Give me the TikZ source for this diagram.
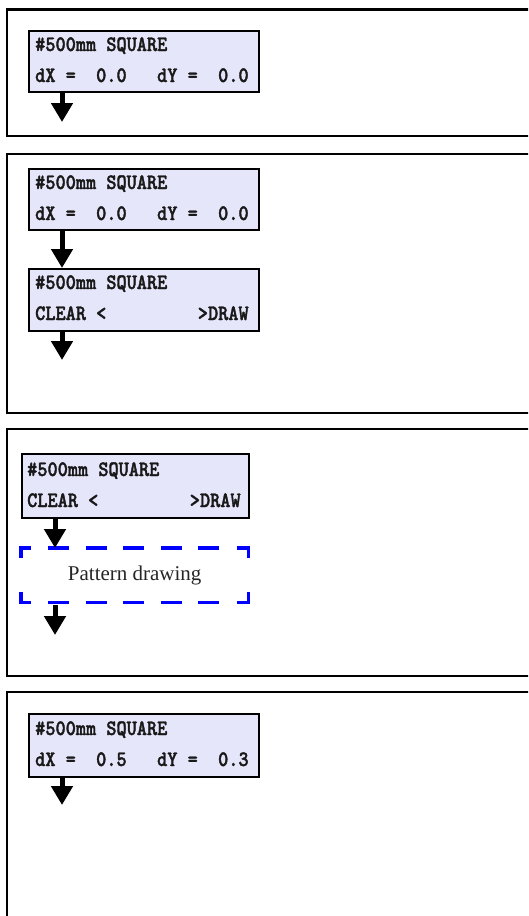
\documentclass[tikz,border=0pt]{standalone}
\usepackage{fontspec}
\setmainfont{Liberation Serif}
\newfontfamily\lcdfont{lmmonolt10-bold.otf}[FakeStretch=0.88,FakeBold=1.6]
\usetikzlibrary{arrows.meta}
\definecolor{lcdbg}{RGB}{230,230,250}
\definecolor{dashblue}{RGB}{0,0,255}
\tikzset{
  frame/.style={draw=black,line width=2.8pt},
  lcd/.style={draw=black,line width=1.8pt,fill=lcdbg,minimum width=230pt,minimum height=61pt,inner sep=0pt,anchor=north west},
  lcdtext/.style={font=\lcdfont\fontsize{22}{22}\selectfont,text=black!90,inner sep=0pt,anchor=base west},
  arr/.style={line width=5pt,-{Triangle[width=21pt,length=19pt]}},
  bluedash/.style={draw=dashblue,line width=3.2pt,line join=miter},
  pdtext/.style={font=\fontsize{21}{21}\selectfont,text=black!85}
}
\begin{document}
\begin{tikzpicture}[x=1pt,y=-1pt]
\useasboundingbox (0,0) rectangle (528,916);
\clip (0,0) rectangle (528,916);
\fill[white] (0,0) rectangle (528,916);
% frames
\draw[frame] (7,9.5) rectangle (545,136);
\draw[frame] (7,154) rectangle (545,413);
\draw[frame] (7,429) rectangle (545,676);
\draw[frame] (7,692) rectangle (545,940);

% ---- frame 1
\node[lcd] (b1) at (28,30) {};
\node[lcdtext] (t1a) at ([xshift=7pt,yshift=-21pt]b1.north west) {\#500mm~SQUARE};
\node[lcdtext] (t1b) at ([xshift=7pt,yshift=-52pt]b1.north west) {dX~=~~0.0~~~dY~=~~0.0};
\coordinate (e1) at (62,122);
\draw[arr] (b1.south west -| e1) -- (e1);

% ---- frame 2
\node[lcd] (b2) at (28,168) {};
\node[lcdtext] (t2a) at ([xshift=7pt,yshift=-21pt]b2.north west) {\#500mm~SQUARE};
\node[lcdtext] (t2b) at ([xshift=7pt,yshift=-52pt]b2.north west) {dX~=~~0.0~~~dY~=~~0.0};
\node[lcd,minimum height=62pt] (b3) at (28,268) {};
\node[lcdtext] (t3a) at ([xshift=7pt,yshift=-21pt]b3.north west) {\#500mm~SQUARE};
\node[lcdtext] (t3b) at ([xshift=7pt,yshift=-52pt]b3.north west) {CLEAR~<~~~~~~~~~>DRAW};
\draw[arr] ([xshift=34pt]b2.south west) -- ([xshift=34pt]b3.north west);
\coordinate (e2) at (62,360);
\draw[arr] (b3.south west -| e2) -- (e2);

% ---- frame 3
\node[lcd,minimum width=227pt,minimum height=64pt] (b4) at (21,453) {};
\node[lcdtext] (t4a) at ([xshift=6pt,yshift=-23pt]b4.north west) {\#500mm~SQUARE};
\node[lcdtext] (t4b) at ([xshift=6pt,yshift=-54pt]b4.north west) {CLEAR~<~~~~~~~~~>DRAW};
\node[pdtext,minimum width=227pt,minimum height=54pt,inner sep=0pt,anchor=north west] (pd) at (21,548) {Pattern drawing};
% dashed border of pd
\draw[bluedash] ([yshift=-10pt]pd.north west) -- (pd.north west) -- ([xshift=10pt]pd.north west);
\draw[bluedash] ([yshift=-10pt]pd.north east) -- (pd.north east) -- ([xshift=-11pt]pd.north east);
\draw[bluedash] ([yshift=10pt]pd.south west) -- (pd.south west) -- ([xshift=10pt]pd.south west);
\draw[bluedash] ([yshift=10pt]pd.south east) -- (pd.south east) -- ([xshift=-11pt]pd.south east);
\draw[bluedash,dash pattern=on 21pt off 16.5pt] ([xshift=27pt]pd.north west) -- ([xshift=-29pt]pd.north east);
\draw[bluedash,dash pattern=on 21pt off 16.5pt] ([xshift=27pt]pd.south west) -- ([xshift=-29pt]pd.south east);
\draw[arr] ([xshift=34pt]b4.south west) -- ([xshift=34pt]pd.north west);
\coordinate (e3) at (55,635);
\draw[arr] ([yshift=-3pt]pd.south west -| e3) -- (e3);

% ---- frame 4
\node[lcd,minimum height=63pt] (b5) at (28,713) {};
\node[lcdtext] (t5a) at ([xshift=7pt,yshift=-22pt]b5.north west) {\#500mm~SQUARE};
\node[lcdtext] (t5b) at ([xshift=7pt,yshift=-53pt]b5.north west) {dX~=~~0.5~~~dY~=~~0.3};
\coordinate (e4) at (62,805);
\draw[arr] (b5.south west -| e4) -- (e4);
\end{tikzpicture}
\end{document}
